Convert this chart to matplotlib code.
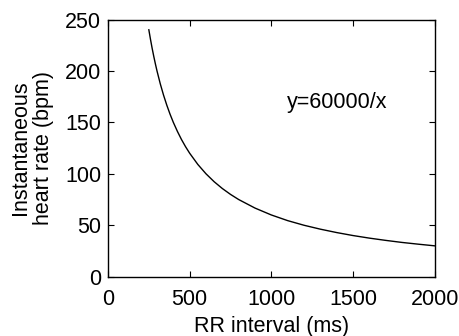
import matplotlib
matplotlib.use("Agg")
import matplotlib.pyplot as plt

# curve values (RR interval in ms, heart rate in bpm)
rr_ms = [250, 260, 270, 280, 290, 300, 320, 340, 360, 380, 400, 425, 450, 475,
         500, 550, 600, 650, 700, 750, 800, 900, 1000, 1100, 1200, 1300, 1400,
         1500, 1600, 1700, 1800, 1900, 2000]
hr_bpm = [240.0, 230.8, 222.2, 214.3, 206.9, 200.0, 187.5, 176.5, 166.7, 157.9,
          150.0, 141.2, 133.3, 126.3, 120.0, 109.1, 100.0, 92.3, 85.7, 80.0, 75.0,
          66.7, 60.0, 54.5, 50.0, 46.2, 42.9, 40.0, 37.5, 35.3, 33.3, 31.6, 30.0]
x_ticks = [0, 500, 1000, 1500, 2000]
y_ticks = [0, 50, 100, 150, 200, 250]

plt.rcParams['font.family'] = ['Liberation Sans', 'DejaVu Sans']
plt.rcParams['font.size'] = 15.5

fig = plt.figure(figsize=(4.59, 3.36), dpi=100)
ax = fig.add_axes([108 / 459, 1 - 276.7 / 336, (434.7 - 108) / 459, (276.7 - 19.5) / 336])

ax.plot(rr_ms, hr_bpm, color='black', linewidth=1)
ax.text(1400, 169, 'y=60000/x', ha='center', va='center')

ax.set_xlim(0, 2000)
ax.set_ylim(0, 250)
ax.set_xticks(x_ticks)
ax.set_yticks(y_ticks)
ax.tick_params(direction='in', top=True, right=True, length=4, width=0.8)
ax.tick_params(axis='x', pad=8.5)
ax.tick_params(axis='y', pad=5)
for s in ax.spines.values():
    s.set_linewidth(1)

ax.set_xlabel('RR interval (ms)', labelpad=5)
ax.set_ylabel('Instantaneous\nheart rate (bpm)', labelpad=8, linespacing=1.1)

fig.savefig('out.png', dpi=100)
